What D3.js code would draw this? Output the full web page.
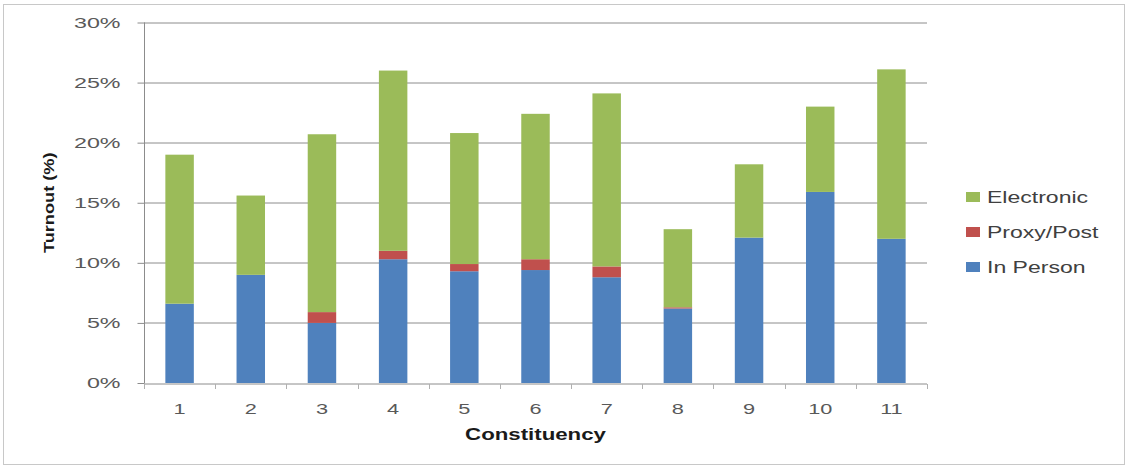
<!DOCTYPE html>
<html>
<head>
<meta charset="utf-8">
<script src="https://cdn.jsdelivr.net/npm/d3@7"></script>
<style>
  body { margin: 0; background: #fff; }
  svg { display: block; }
</style>
</head>
<body>
<div id="chart"></div>
<script>
// Data (percent)
const constituencies = ["1", "2", "3", "4", "5", "6", "7", "8", "9", "10", "11"];
const inPerson   = [6.6, 9.0, 5.0, 10.3, 9.3, 9.4, 8.8, 6.2, 12.1, 15.9, 12.0];
const proxyPost  = [0.0, 0.0, 0.9, 0.7, 0.6, 0.9, 0.9, 0.1, 0.0, 0.0, 0.0];
const electronic = [12.4, 6.6, 14.8, 15.0, 10.9, 12.1, 14.4, 6.5, 6.1, 7.1, 14.1];
const seriesNames = ["In Person", "Proxy/Post", "Electronic"];
const seriesColors = ["#4f81bd", "#c0504d", "#9bbb59"];
const yTicks = [0, 5, 10, 15, 20, 25, 30];

const W = 1128, H = 468;
const margin = { top: 22.5, right: 201, bottom: 85, left: 144 };
const width = W - margin.left - margin.right,
      height = H - margin.top - margin.bottom;

// the source image is stretched sideways, so text is widened to match
const stretch = 1.45;

const svg = d3.select("#chart").append("svg")
    .attr("width", W)
    .attr("height", H)
    .style("font-family", "'Liberation Sans', Arial, sans-serif");

// Outer chart border
svg.append("rect")
    .attr("x", 3.5).attr("y", 4.5)
    .attr("width", W - 7).attr("height", H - 8)
    .attr("fill", "none")
    .attr("stroke", "#c8c8c8");

const g = svg.append("g")
    .attr("transform", `translate(${margin.left},${margin.top})`);

// Build table for stacking
const table = constituencies.map((c, i) => ({
    c,
    "In Person": inPerson[i],
    "Proxy/Post": proxyPost[i],
    "Electronic": electronic[i]
}));
const stacked = d3.stack().keys(seriesNames)(table);

const x = d3.scaleBand()
    .domain(constituencies)
    .range([0, width])
    .paddingInner(0.6)
    .paddingOuter(0.3);

const y = d3.scaleLinear()
    .domain([0, 30])
    .range([height, 0]);

// Gridlines
g.append("g")
    .selectAll("line")
    .data(yTicks.filter(t => t > 0))
    .enter().append("line")
    .attr("x1", 0).attr("x2", width)
    .attr("y1", d => Math.round(y(d)) + 0.5)
    .attr("y2", d => Math.round(y(d)) + 0.5)
    .attr("stroke", "#8c8c8c")
    .attr("stroke-width", 1);

// Bars
g.append("g")
    .selectAll("g")
    .data(stacked)
    .enter().append("g")
    .attr("fill", (d, i) => seriesColors[i])
    .selectAll("rect")
    .data(d => d)
    .enter().append("rect")
    .attr("x", d => x(d.data.c))
    .attr("y", d => y(d[1]))
    .attr("width", x.bandwidth())
    .attr("height", d => Math.max(0, y(d[0]) - y(d[1])));

// Y axis
const yAxis = g.append("g")
    .attr("transform", "translate(0.5,0)")
    .call(d3.axisLeft(y).tickValues(yTicks).tickFormat(d => d + "%").tickSize(7));
yAxis.select(".domain").attr("stroke", "#8c8c8c").attr("d", `M0,0V${height}`);
yAxis.selectAll(".tick line").attr("stroke", "#8c8c8c");
yAxis.selectAll(".tick text")
    .attr("x", 0)
    .attr("transform", "translate(-24,0) scale(1.55,1)")
    .attr("fill", "#595959")
    .style("font-size", "15px");

// X axis with tick marks on category boundaries
const step = x.step();
const xAxis = g.append("g")
    .attr("transform", `translate(0,${Math.round(height) + 0.5})`);
xAxis.append("line")
    .attr("x1", 0).attr("x2", width)
    .attr("stroke", "#8c8c8c");
xAxis.selectAll(".bound")
    .data(d3.range(constituencies.length + 1))
    .enter().append("line")
    .attr("class", "bound")
    .attr("x1", i => Math.round(i * step) + 0.5)
    .attr("x2", i => Math.round(i * step) + 0.5)
    .attr("y1", 0).attr("y2", 5)
    .attr("stroke", "#b0b0b0");
xAxis.selectAll(".lbl")
    .data(constituencies)
    .enter().append("text")
    .attr("class", "lbl")
    .attr("transform", d => `translate(${x(d) + x.bandwidth() / 2},30) scale(${stretch},1)`)
    .attr("text-anchor", "middle")
    .attr("fill", "#595959")
    .style("font-size", "15px")
    .text(d => d);

// Axis titles
g.append("text")
    .attr("transform", `translate(${width / 2},${height + 57}) scale(1.39,1)`)
    .attr("text-anchor", "middle")
    .attr("fill", "#1a1a1a")
    .style("font-size", "16px")
    .style("font-weight", "bold")
    .text("Constituency");

g.append("text")
    .attr("transform", `translate(${-90},${height / 2}) rotate(-90) scale(1.3,1)`)
    .attr("text-anchor", "middle")
    .attr("fill", "#1a1a1a")
    .style("font-size", "14px")
    .style("font-weight", "bold")
    .text("Turnout (%)");

// Legend (top entry is Electronic)
const legendItems = seriesNames.map((n, i) => ({ n, c: seriesColors[i] })).reverse();
const legend = svg.append("g")
    .attr("transform", "translate(966,190)");
const li = legend.selectAll("g")
    .data(legendItems)
    .enter().append("g")
    .attr("transform", (d, i) => `translate(0,${i * 35})`);
li.append("rect")
    .attr("x", 0).attr("y", 2)
    .attr("width", 14).attr("height", 10)
    .attr("fill", d => d.c);
li.append("text")
    .attr("transform", "translate(21,13) scale(1.44,1)")
    .attr("fill", "#404040")
    .style("font-size", "16px")
    .text(d => d.n);
</script>
</body>
</html>
